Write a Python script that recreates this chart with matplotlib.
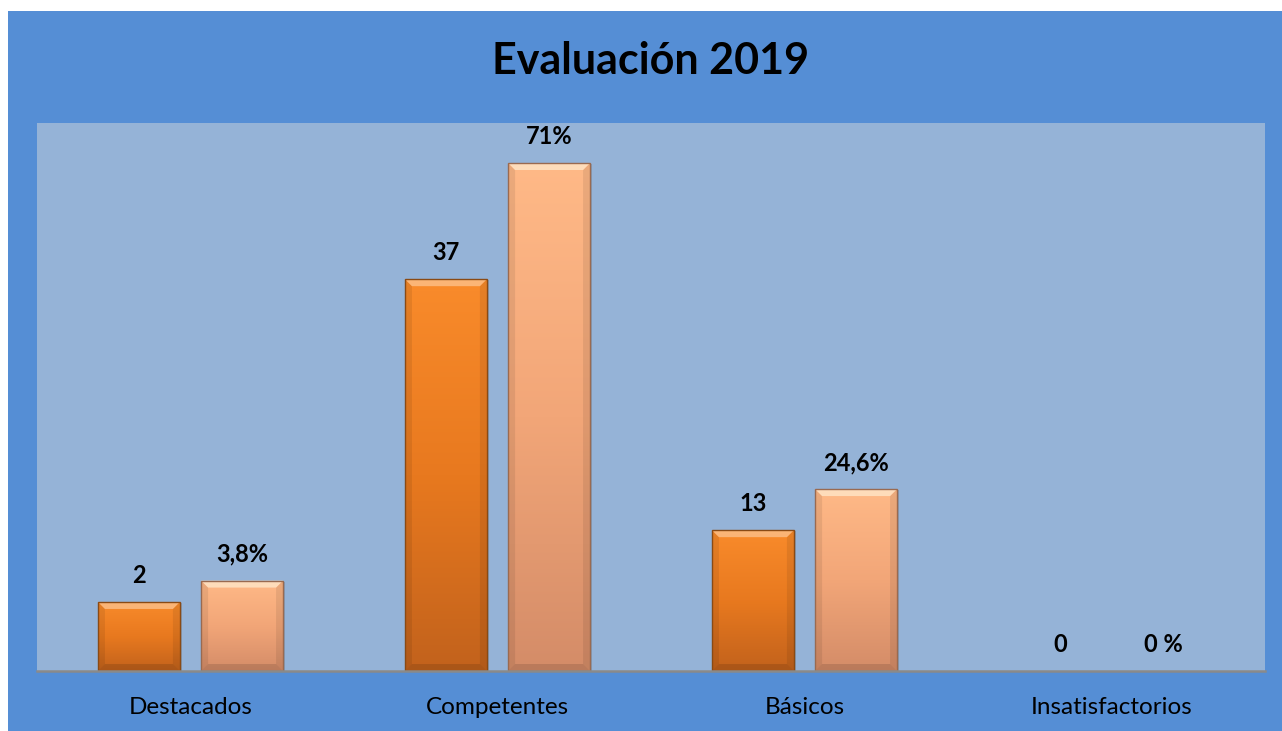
import matplotlib
matplotlib.use("Agg")
import matplotlib.pyplot as plt
import numpy as np
from matplotlib.patches import Rectangle, Polygon
from matplotlib.colors import LinearSegmentedColormap

plt.rcParams['font.family'] = ['Lato', 'DejaVu Sans']

# ---- data ----
categories = ["Destacados", "Competentes", "Básicos", "Insatisfactorios"]
counts = [2, 37, 13, 0]
count_labels = ["2", "37", "13", "0"]
pcts = [3.8, 71, 24.6, 0]
pct_labels = ["3,8%", "71%", "24,6%", "0 %"]
# drawn bar heights, in % of the plot height (the picture's bars are not to scale)
count_h = [12.6, 71.5, 25.7, 0]
pct_h = [16.5, 92.7, 33.2, 0]

W, H = 1282, 731
fig = plt.figure(figsize=(W / 100, H / 100), dpi=100)
fig.patch.set_facecolor("white")
bg = Rectangle((8 / W, 0), 1 - 8 / W, (H - 11) / H,
               transform=fig.transFigure, facecolor="#558ED5",
               edgecolor="none", zorder=-10)
fig.patches.append(bg)

ax = fig.add_axes([37 / W, (H - 671) / H, (1265 - 37) / W, (671 - 123) / H])
ax.set_zorder(1)
ax.set_facecolor("#95B3D7")
for s in ax.spines.values():
    s.set_visible(False)
ax.tick_params(left=False, labelleft=False, bottom=False)
ax.axhline(0, color="#8A8A8A", lw=1.8, zorder=5, clip_on=False)
ax.set_xticks(range(len(categories)))
ax.set_xticklabels(categories, fontsize=17.5, color="black")
ax.tick_params(axis="x", pad=15)

fig.text(651 / W, 1 - 61 / H, "Evaluación 2019", ha="center", va="center",
         fontsize=31, fontweight="bold", color="black")

bw = 0.267
off = 0.168
cm_orange = LinearSegmentedColormap.from_list("o", ["#C2621C", "#E8791F", "#F98B2B"])
cm_peach = LinearSegmentedColormap.from_list("p", ["#D48C68", "#F2A678", "#FFB987"])
px_y = 100 / 548
px_x = 1 / 307
grad = np.linspace(0, 1, 256).reshape(-1, 1)


def draw_bar(x, h, cmap, edge, light):
    if h <= 0:
        return
    x0, x1 = x - bw / 2, x + bw / 2
    r = Rectangle((x0, 0), bw, h, facecolor="none", edgecolor=edge,
                  lw=1.0, zorder=3)
    ax.add_patch(r)
    im = ax.imshow(grad, cmap=cmap, origin="lower", aspect="auto",
                   extent=(x0, x1, 0, h), zorder=2)
    im.set_clip_path(r)
    b = 7
    bx, by = b * px_x, b * px_y
    top = Polygon([(x0, h), (x1, h), (x1 - bx, h - by), (x0 + bx, h - by)],
                  closed=True, facecolor=light, edgecolor="none", alpha=0.8, zorder=2.5)
    ax.add_patch(top)
    for xs, xi in ((x0, x0 + bx), (x1, x1 - bx)):
        side = Polygon([(xs, h), (xi, h - by), (xi, by), (xs, 0)],
                       closed=True, facecolor="black", edgecolor="none",
                       alpha=0.08, zorder=2.4)
        ax.add_patch(side)
    bot = Polygon([(x0, 0), (x1, 0), (x1 - bx, by), (x0 + bx, by)],
                  closed=True, facecolor="black", edgecolor="none", alpha=0.12, zorder=2.4)
    ax.add_patch(bot)
    # soft shadow
    sh = Rectangle((x0 + 2 * px_x, -1 * px_y), bw, h, facecolor="#555555",
                   edgecolor="none", alpha=0.25, zorder=1.5)
    ax.add_patch(sh)


for i in range(len(categories)):
    xo = i - off
    xp = i + off
    draw_bar(xo, count_h[i], cm_orange, "#8A4A14", "#FCC08A")
    draw_bar(xp, pct_h[i], cm_peach, "#9A6A50", "#FFE6C8")
    ax.annotate(count_labels[i], (xo, count_h[i]), xytext=(0, 13.5), textcoords="offset points",
                ha="center", va="baseline", fontsize=17, fontweight="bold", color="black")
    ax.annotate(pct_labels[i], (xp, pct_h[i]), xytext=(0, 13.5), textcoords="offset points",
                ha="center", va="baseline", fontsize=17, fontweight="bold", color="black")

ax.set_xlim(-0.5, 3.5)
ax.set_ylim(0, 100)
fig.savefig("out.png", dpi=100, facecolor=fig.get_facecolor())
